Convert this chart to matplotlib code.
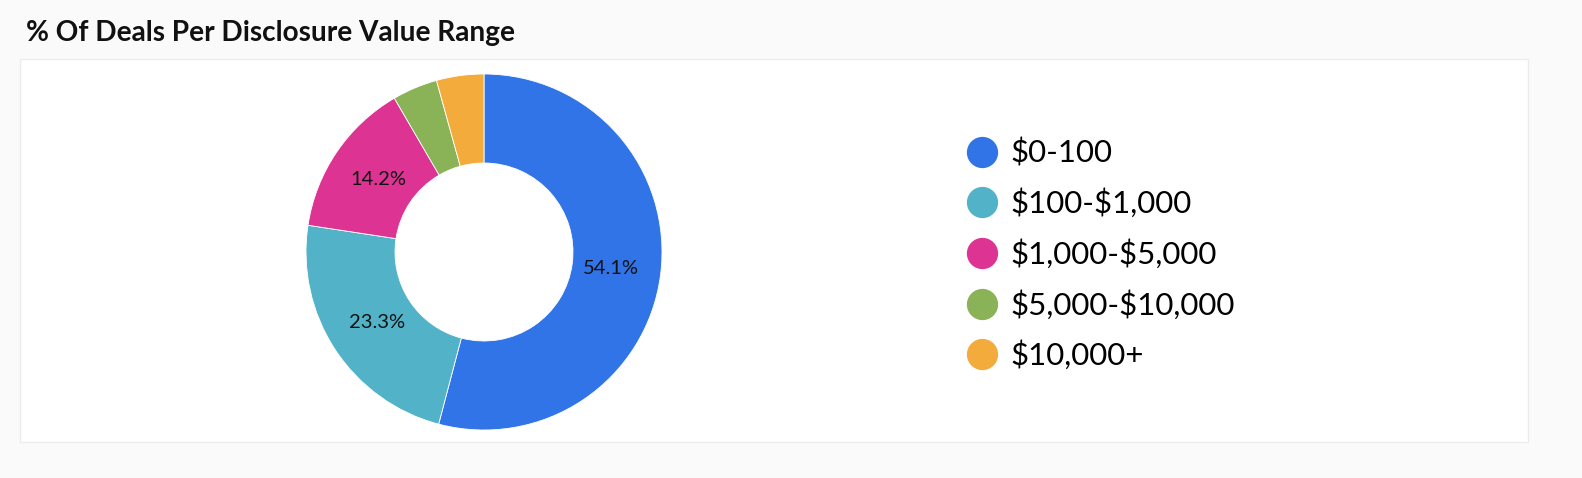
import matplotlib
matplotlib.use("Agg")
import matplotlib.pyplot as plt
from matplotlib.patches import Rectangle
from matplotlib.lines import Line2D

categories = ["$0-100", "$100-$1,000", "$1,000-$5,000", "$5,000-$10,000", "$10,000+"]
values = [54.1, 23.3, 14.2, 4.1, 4.3]
colors = ["#3174E8", "#52B3C8", "#DD3393", "#8AB256", "#F3AB3C"]
title = "% Of Deals Per Disclosure Value Range"

plt.rcParams['font.family'] = ['Lato', 'DejaVu Sans']
plt.rcParams['text.parse_math'] = False

W, H = 1582, 478
fig = plt.figure(figsize=(W / 100, H / 100), dpi=100)
fig.patch.set_facecolor("#fafafa")

# white panel
fig.patches.append(Rectangle((20 / W, 1 - 442 / H), (1528 - 20) / W, (442 - 59) / H,
                             transform=fig.transFigure, facecolor="white",
                             edgecolor="#ececec", linewidth=1, zorder=-5))

fig.text(26 / W, 1 - 33 / H, title, fontsize=20.2, fontweight="bold",
         ha="left", va="center", color="#111111")

cx, cy, r = 484, 252, 178
ax = fig.add_axes([(cx - r) / W, 1 - (cy + r) / H, 2 * r / W, 2 * r / H])
ax.set_zorder(2)
ax.patch.set_visible(False)
ax.set_aspect("equal")

def fmt(p):
    return f"{p:.1f}%" if p >= 5 else ""

wedges, texts, autotexts = ax.pie(values, colors=colors, startangle=90, counterclock=False,
                                  radius=1.0, wedgeprops=dict(width=0.5, edgecolor="white", linewidth=0.6),
                                  autopct=fmt, pctdistance=0.72)
for t in autotexts:
    t.set_fontsize(14.5)
    t.set_color("#111111")
ax.set_xlim(-1, 1)
ax.set_ylim(-1, 1)
ax.axis("off")

handles = [Line2D([0], [0], marker="o", linestyle="none", markersize=21.5,
                  markerfacecolor=c, markeredgecolor=c) for c in colors]
leg = fig.legend(handles, categories, loc="upper left", bbox_to_anchor=(951 / W, 1 - 126 / H),
                 frameon=False, fontsize=22.5, handletextpad=0.3, labelspacing=0.67,
                 handlelength=1.2, borderaxespad=0)

fig.savefig("out.png", dpi=100, facecolor=fig.get_facecolor())
